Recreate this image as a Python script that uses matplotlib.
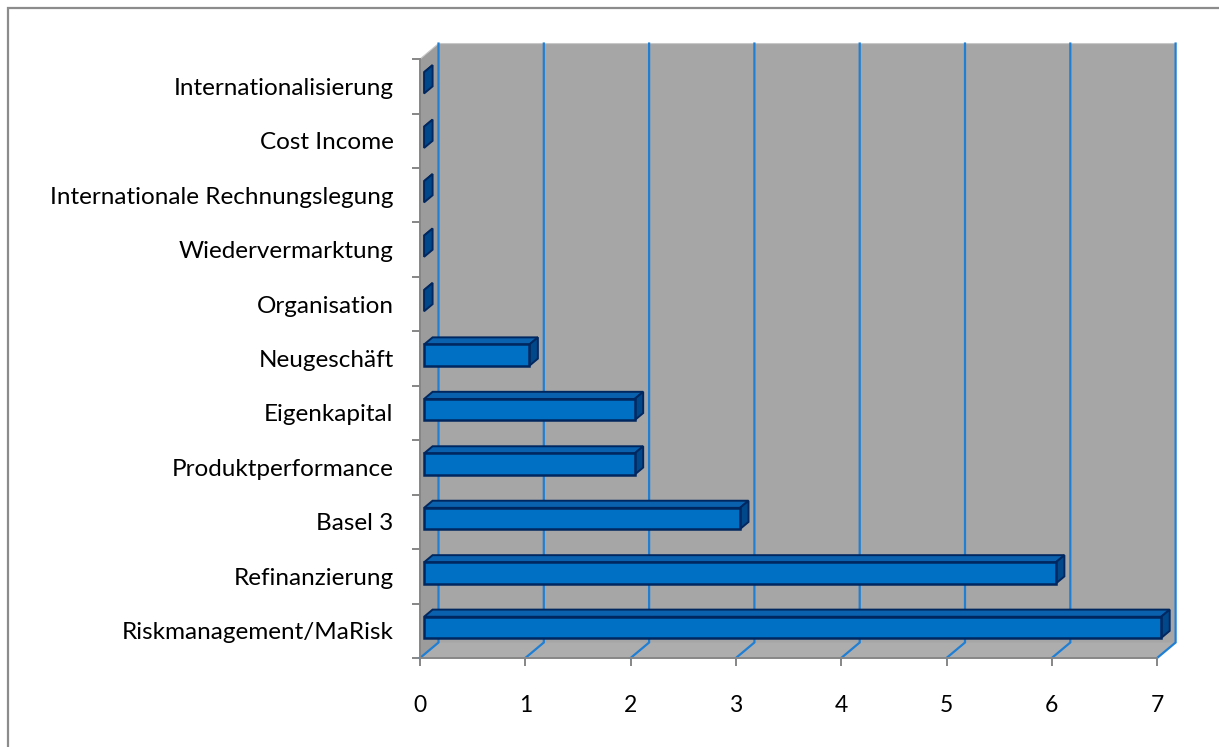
import matplotlib
matplotlib.use("Agg")
import matplotlib.pyplot as plt
from matplotlib.patches import Polygon, Rectangle

# Survey topics and number of mentions
categories = [
    "Riskmanagement/MaRisk",
    "Refinanzierung",
    "Basel 3",
    "Produktperformance",
    "Eigenkapital",
    "Neugeschäft",
    "Organisation",
    "Wiedervermarktung",
    "Internationale Rechnungslegung",
    "Cost Income",
    "Internationalisierung",
]
values = [7, 6, 3, 2, 2, 1, 0, 0, 0, 0, 0]
x_ticks = [0, 1, 2, 3, 4, 5, 6, 7]

plt.rcParams["font.family"] = ["Lato", "DejaVu Sans"]

W, H, DPI = 1219, 747, 100
fig = plt.figure(figsize=(W / DPI, H / DPI), dpi=DPI)

# plot area in pixels
px_left, px_right, px_top, px_bottom = 400, 1200, 30, 700
ax = fig.add_axes([px_left / W, 1 - px_bottom / H,
                   (px_right - px_left) / W, (px_bottom - px_top) / H])

unit_x = 105.3      # pixels per value unit
unit_y = 54.45      # pixels per category row
x0_px, y0_px = 420, 658   # front-bottom-left corner of the floor
ax.set_xlim((px_left - x0_px) / unit_x, (px_right - x0_px) / unit_x)
ax.set_ylim(-0.5 - (px_bottom - y0_px) / unit_y, -0.5 + (y0_px - px_top) / unit_y)

n = len(categories)
xmax = x_ticks[-1]
ylo, yhi = -0.5, n - 0.5

# oblique depth offset of the back wall
DX = 18.5 / unit_x
DY = 15.5 / unit_y

wall_c = "#a6a6a6"
side_c = "#9c9c9c"
floor_c = "#adadad"
grid_c = "#1f7fd4"
axis_c = "#868686"

# back wall, side wall, floor
ax.add_patch(Polygon([(DX, ylo + DY), (xmax + DX, ylo + DY),
                      (xmax + DX, yhi + DY), (DX, yhi + DY)],
                     closed=True, fc=wall_c, ec="none", zorder=1))
ax.add_patch(Polygon([(0, ylo), (DX, ylo + DY), (DX, yhi + DY), (0, yhi)],
                     closed=True, fc=side_c, ec="none", zorder=1))
ax.add_patch(Polygon([(0, ylo), (xmax, ylo), (xmax + DX, ylo + DY), (DX, ylo + DY)],
                     closed=True, fc=floor_c, ec="none", zorder=1))
# thin light edge along the top of the side wall and back wall
ax.plot([0, DX, xmax + DX], [yhi, yhi + DY, yhi + DY], color="#c8c8c8", lw=0.8, zorder=1.5)

# gridlines: up the back wall and across the floor
for xv in x_ticks:
    ax.plot([xv, xv + DX, xv + DX], [ylo, ylo + DY, yhi + DY],
            color=grid_c, lw=1.6, zorder=2, solid_joinstyle="miter")

# 3D bars
d0, d1 = 0.22, 0.68     # front and back depth of bars (fraction of depth)
bh = 0.39               # bar height in rows
front_c = "#0070c4"
top_c = "#0a62ae"
side_bar_c = "#00488a"
edge_c = "#00275f"
dd = d1 - d0
for i, v in enumerate(values):
    xf0 = d0 * DX
    xf1 = v + d0 * DX
    yb = i - bh / 2 + d0 * DY
    yt = i + bh / 2 + d0 * DY
    ox, oy = dd * DX, dd * DY
    # top face
    ax.add_patch(Polygon([(xf0, yt), (xf1, yt), (xf1 + ox, yt + oy), (xf0 + ox, yt + oy)],
                         closed=True, fc=top_c, ec=edge_c, lw=1.4, zorder=4,
                         joinstyle="miter"))
    # right side face
    ax.add_patch(Polygon([(xf1, yb), (xf1, yt), (xf1 + ox, yt + oy), (xf1 + ox, yb + oy)],
                         closed=True, fc=side_bar_c, ec=edge_c, lw=1.4, zorder=4,
                         joinstyle="miter"))
    # front face
    if v > 0:
        ax.barh(i + d0 * DY, v, height=bh, left=xf0, color=front_c,
                edgecolor=edge_c, linewidth=1.8, zorder=5)

# axes: spines, ticks, labels
for s in ["top", "right"]:
    ax.spines[s].set_visible(False)
ax.spines["left"].set_position(("data", 0))
ax.spines["left"].set_bounds(ylo, yhi)
ax.spines["bottom"].set_position(("data", ylo))
ax.spines["bottom"].set_bounds(0, xmax)
for s in ["left", "bottom"]:
    ax.spines[s].set_color(axis_c)
    ax.spines[s].set_linewidth(1.4)
    ax.spines[s].set_zorder(3)

ax.set_xticks(x_ticks)
ax.set_xticklabels([str(t) for t in x_ticks])
ax.set_yticks([k - 0.5 for k in range(n + 1)])
ax.set_yticklabels([])
ax.set_yticks(range(n), minor=True)
ax.set_yticklabels(categories, minor=True)

ax.tick_params(axis="x", which="major", direction="out", length=6, width=1.4,
               color=axis_c, labelsize=16.5, pad=21, labelcolor="black")
ax.tick_params(axis="y", which="major", direction="out", length=6, width=1.4,
               color=axis_c)
ax.tick_params(axis="y", which="minor", length=0, labelsize=17.5, pad=19,
               labelcolor="black")

# chart area border
fig.add_artist(Rectangle((8 / W, -0.02), 1.2, 1 - 8 / H + 0.02,
                         transform=fig.transFigure, fill=False,
                         ec="#8c8c8c", lw=1.6))

fig.savefig("out.png", dpi=DPI)
